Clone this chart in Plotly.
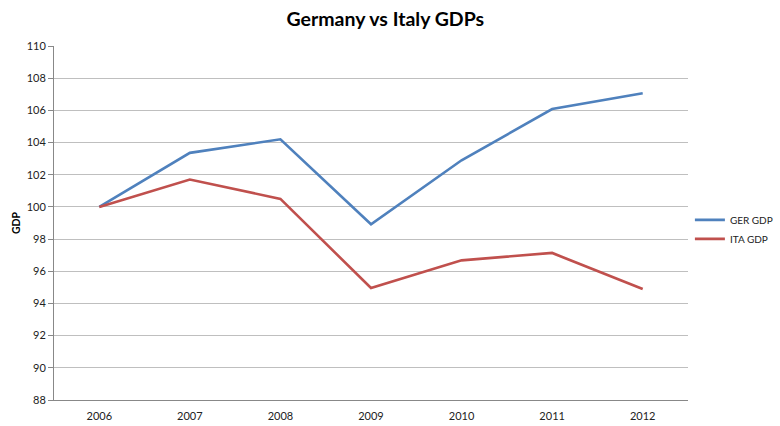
import plotly.graph_objects as go

# GDP index (2006 = 100)
years = ["2006", "2007", "2008", "2009", "2010", "2011", "2012"]
ger_gdp = [100.0, 103.36, 104.2, 98.92, 102.9, 106.08, 107.06]
ita_gdp = [100.0, 101.7, 100.5, 94.96, 96.68, 97.14, 94.9]
y_ticks = [88, 90, 92, 94, 96, 98, 100, 102, 104, 106, 108, 110]

FONT = "Lato"
BLUE = "#4F81BD"
RED = "#C0504D"
GRID = "#BFBFBF"

fig = go.Figure()
fig.add_trace(go.Scatter(x=years, y=ger_gdp, mode="lines", name="GER GDP",
                         line=dict(color=BLUE, width=2.6)))
fig.add_trace(go.Scatter(x=years, y=ita_gdp, mode="lines", name="ITA GDP",
                         line=dict(color=RED, width=2.6)))

fig.update_layout(
    width=780, height=426,
    margin=dict(l=54, r=92, t=46, b=26, autoexpand=False),
    paper_bgcolor="white", plot_bgcolor="white",
    font=dict(family=FONT, size=11, color="#222222"),
    title=dict(text="<b>Germany vs Italy GDPs</b>", x=0.494, xanchor="center",
               y=0.955, yanchor="middle",
               font=dict(family=FONT, size=19.5, color="#000000")),
    showlegend=True,
    legend=dict(x=1.003, xanchor="left", y=0.482, yanchor="middle",
                font=dict(family=FONT, size=10, color="#222222"),
                itemwidth=30, tracegroupgap=4, bgcolor="rgba(0,0,0,0)"),
    xaxis=dict(type="category", range=[-0.5, 6.5], showgrid=False,
               showline=True, linecolor="#888888", linewidth=1,
               ticks="", tickfont=dict(size=11, color="#222222"),
               ticklabelstandoff=6, zeroline=False, fixedrange=True),
    yaxis=dict(range=[88, 110], tickvals=y_ticks, showgrid=True,
               gridcolor=GRID, gridwidth=1, showline=True,
               linecolor="#888888", linewidth=1, ticks="outside",
               ticklen=5, tickcolor="#888888",
               tickfont=dict(size=11, color="#222222"),
               title=dict(text="<b>GDP</b>", standoff=3,
                          font=dict(family=FONT, size=10.5, color="#000000")),
               zeroline=False, fixedrange=True),
)

fig.write_html("out.html")
